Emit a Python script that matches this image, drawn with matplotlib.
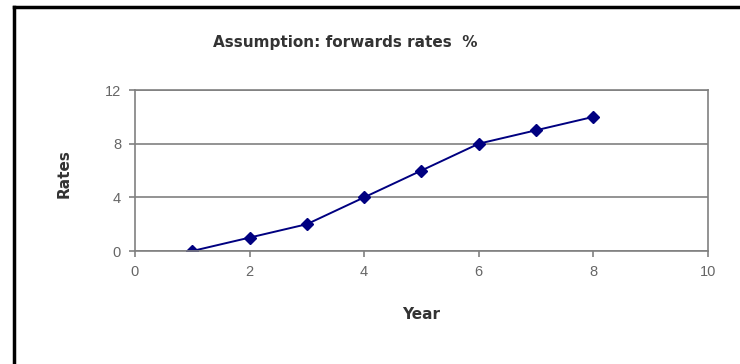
import matplotlib.pyplot as plt
from matplotlib.lines import Line2D

plt.rcParams['font.family'] = ['Liberation Sans', 'DejaVu Sans']

years = [1, 2, 3, 4, 5, 6, 7, 8]
rates = [0, 1, 2, 4, 6, 8, 9, 10]
x_ticks = [0, 2, 4, 6, 8, 10]
y_ticks = [0, 4, 8, 12]

fig = plt.figure(figsize=(7.4, 3.64), dpi=100)
ax = fig.add_axes([0.1824, 0.3104, 0.7743, 0.4423])

ax.plot(years, rates, color='#000080', linewidth=1.4, marker='D',
        markersize=6, markerfacecolor='#000080', markeredgecolor='#000080')

ax.set_xlim(0, 10)
ax.set_ylim(0, 12)
ax.set_xticks(x_ticks)
ax.set_yticks(y_ticks)
ax.yaxis.grid(True, color='#808080', linewidth=1.2)
ax.set_axisbelow(True)

for side in ['top', 'right', 'bottom', 'left']:
    ax.spines[side].set_color('#808080')
    ax.spines[side].set_linewidth(1.2)
ax.tick_params(colors='#808080', labelcolor='#666666', labelsize=10.5,
               length=4, width=1.2, direction='out', pad=6)

bold = dict(family='DejaVu Sans', fontsize=11, fontweight='bold',
            color='#333333', ha='center', va='center')
fig.text(0.466, 0.882, 'Assumption: forwards rates  %', **bold)
fig.text(0.086, 0.522, 'Rates', rotation=90, **bold)
fig.text(0.569, 0.135, 'Year', **bold)

# black frame along the top and left edge
fig.add_artist(Line2D([0.019, 1.0], [0.982, 0.982], color='black',
                      linewidth=2.5, transform=fig.transFigure))
fig.add_artist(Line2D([0.019, 0.019], [0.0, 0.982], color='black',
                      linewidth=2.5, transform=fig.transFigure))

fig.savefig('out.png', dpi=100)
